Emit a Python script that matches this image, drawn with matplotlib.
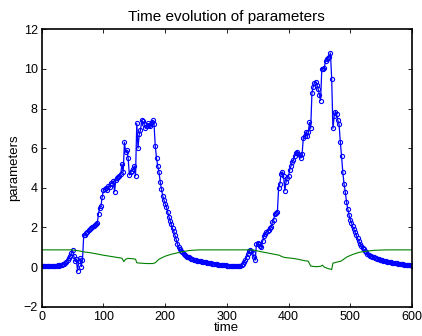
import numpy as np
import matplotlib.pyplot as plt

plt.rcParams['font.family'] = ['Liberation Sans', 'DejaVu Sans']

# blue series, one value every 2 time units (t = 0, 2, ..., 600)
blue_vals = [
    0.05, 0.06, 0.05, 0.07, 0.06, 0.05, 0.06, 0.08, 0.07, 0.06,
    0.07, 0.08, 0.07, 0.09, 0.08, 0.10, 0.12, 0.14, 0.17, 0.20,
    0.28, 0.36, 0.45, 0.58, 0.70, 0.84, 0.55, 0.30, 0.40, -0.20,
    0.30, 0.45, 0.02, 0.35, 1.60, 1.62, 1.70, 1.75, 1.85, 1.92,
    1.98, 2.02, 2.05, 2.10, 2.15, 2.22, 2.70, 3.00, 3.10, 3.55,
    3.90, 3.95, 4.00, 3.90, 4.10, 4.05, 4.25, 4.20, 4.35, 3.80,
    4.40, 4.50, 4.55, 4.60, 4.70, 5.20, 4.80, 6.30, 5.80, 5.90,
    5.50, 4.65, 4.80, 4.85, 4.95, 5.10, 4.60, 7.25, 6.00, 6.70,
    6.90, 7.40, 7.35, 7.20, 7.00, 7.10, 7.25, 7.15, 7.10, 7.30,
    7.40, 7.20, 6.10, 5.50, 5.10, 4.80, 4.30, 3.95, 3.60, 3.40,
    3.20, 3.05, 2.80, 2.55, 2.35, 2.15, 1.95, 1.80, 1.60, 1.40,
    1.15, 1.00, 0.90, 0.82, 0.75, 0.68, 0.62, 0.57, 0.53, 0.49,
    0.45, 0.42, 0.40, 0.38, 0.36, 0.34, 0.33, 0.31, 0.30, 0.29,
    0.28, 0.26, 0.25, 0.24, 0.23, 0.22, 0.20, 0.19, 0.18, 0.17,
    0.16, 0.15, 0.14, 0.13, 0.12, 0.12, 0.11, 0.10, 0.10, 0.09,
    0.08, 0.08, 0.07, 0.07, 0.06, 0.06, 0.05, 0.05, 0.04, 0.05,
    0.06, 0.08, 0.12, 0.18, 0.25, 0.35, 0.50, 0.65, 0.80, 0.85,
    0.80, 0.72, 0.50, 0.35, 1.15, 1.20, 1.18, 1.05, 1.00, 1.30,
    1.55, 1.65, 1.75, 1.82, 1.88, 1.95, 2.00, 2.30, 2.40, 2.70,
    2.75, 2.80, 4.00, 4.20, 4.70, 4.80, 4.60, 3.85, 4.30, 4.50,
    4.60, 4.90, 5.10, 5.30, 5.40, 5.60, 5.75, 5.80, 5.70, 5.65,
    5.50, 5.70, 6.50, 6.60, 6.80, 6.60, 6.80, 7.30, 7.00, 8.80,
    9.10, 9.30, 9.35, 9.20, 9.00, 8.70, 8.40, 10.00, 10.00, 10.05,
    10.40, 10.50, 10.55, 10.60, 10.80, 9.50, 7.00, 7.60, 7.85, 7.70,
    7.40, 7.20, 6.30, 5.60, 4.80, 4.20, 3.80, 3.30, 2.95, 2.65,
    2.40, 2.25, 2.05, 1.90, 1.75, 1.60, 1.45, 1.30, 1.18, 1.05,
    0.98, 0.90, 0.82, 0.75, 0.68, 0.62, 0.58, 0.55, 0.52, 0.50,
    0.47, 0.44, 0.42, 0.40, 0.38, 0.36, 0.34, 0.32, 0.31, 0.30,
    0.28, 0.27, 0.25, 0.24, 0.23, 0.22, 0.21, 0.20, 0.19, 0.18,
    0.17, 0.16, 0.15, 0.14, 0.13, 0.12, 0.12, 0.11, 0.10, 0.09,
    0.08,
]
blue_t = np.arange(0, 601, 2)

# green series, read at irregular times
green_t = [0, 50, 60, 70, 80, 90, 100, 110, 120, 130, 133, 136, 140, 148, 152,
           154, 160, 170, 180, 184, 190, 200, 210, 220, 230, 240, 255, 340,
           345, 355, 365, 375, 385, 390, 395, 405, 415, 425, 432, 436, 445,
           452, 455, 458, 465, 470, 472, 478, 485, 495, 505, 515, 525, 540,
           560, 600]
green_vals = [0.87, 0.87, 0.82, 0.76, 0.72, 0.66, 0.60, 0.55, 0.50, 0.45, 0.28,
              0.40, 0.44, 0.42, 0.40, 0.22, 0.20, 0.18, 0.18, 0.22, 0.40, 0.55,
              0.65, 0.72, 0.79, 0.84, 0.87, 0.87, 0.85, 0.78, 0.72, 0.66, 0.60,
              0.52, 0.48, 0.45, 0.40, 0.33, 0.30, 0.05, 0.02, 0.04, 0.10, 0.00,
              -0.08, -0.12, 0.20, 0.25, 0.30, 0.52, 0.65, 0.75, 0.80, 0.85,
              0.87, 0.87]

fig = plt.figure(figsize=(4.22, 3.36), dpi=100)
ax = fig.add_axes([0.099, 0.087, 0.877, 0.826])

ax.plot(blue_t, blue_vals, color='b', lw=0.9, marker='o', markersize=3.0,
        markerfacecolor='none', markeredgewidth=0.8)
ax.plot(green_t, green_vals, color=(0, 0.5, 0), lw=0.8)

ax.set_xlim(0, 600)
ax.set_ylim(-2, 12)
ax.set_xticks(np.arange(0, 601, 100))
ax.set_yticks(np.arange(-2, 13, 2))
ax.tick_params(direction='in', top=True, right=True, labelsize=9,
               length=3, width=0.6, pad=3)
for s in ax.spines.values():
    s.set_linewidth(1.2)

ax.set_title('Time evolution of parameters', fontsize=11, pad=6)
ax.set_xlabel('time', fontsize=9.5, labelpad=-1)
ax.set_ylabel('parameters', fontsize=9.5, labelpad=2)

fig.savefig('out.png', dpi=100)
